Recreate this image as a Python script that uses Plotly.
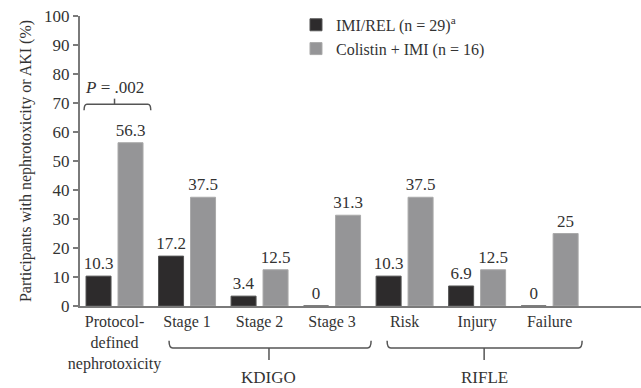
import plotly.graph_objects as go

categories = ["Protocol-<br>defined<br>nephrotoxicity", "Stage 1", "Stage 2", "Stage 3", "Risk", "Injury", "Failure"]
imi_rel = [10.3, 17.2, 3.4, 0, 10.3, 6.9, 0]
colistin_imi = [56.3, 37.5, 12.5, 31.3, 37.5, 12.5, 25]
imi_rel_labels = ["10.3", "17.2", "3.4", "0", "10.3", "6.9", "0"]
colistin_labels = ["56.3", "37.5", "12.5", "31.3", "37.5", "12.5", "25"]
y_ticks = [0, 10, 20, 30, 40, 50, 60, 70, 80, 90, 100]

FONT = "'Liberation Serif', 'Times New Roman', 'DejaVu Serif', serif"
AX = "#7a7a7a"
TXT = "#333333"
x_idx = list(range(len(categories)))

fig = go.Figure()
fig.add_trace(go.Bar(
    x=x_idx, y=imi_rel, name="IMI/REL (n = 29)<sup>a</sup>",
    width=0.345, offset=-0.393,
    marker=dict(color="#2d2b2c", line=dict(color="#555555", width=1)),
    text=imi_rel_labels, textposition="outside", cliponaxis=False, constraintext="none",
    textfont=dict(family=FONT, size=17, color=TXT),
))
fig.add_trace(go.Bar(
    x=x_idx, y=colistin_imi, name="Colistin + IMI (n = 16)",
    width=0.345, offset=0.048,
    marker=dict(color="#959597", line=dict(color="#aaaaaa", width=1)),
    text=colistin_labels, textposition="outside", cliponaxis=False, constraintext="none",
    textfont=dict(family=FONT, size=17, color=TXT),
))

shapes = []
line = dict(color="#555555", width=1.5)
# P-value bracket
shapes.append(dict(type="path", xref="x", yref="y",
                   path="M -0.42,67.5 Q -0.42,69.6 -0.38,69.6 L 0.46,69.6 Q 0.5,69.6 0.5,67.5",
                   line=line))
shapes.append(dict(type="line", xref="x", yref="y", x0=0.0, x1=0.0, y0=69.6, y1=71.5, line=line))

def bottom_bracket(x0, x1, xc):
    s = []
    s.append(dict(type="path", xref="x", yref="paper",
                  path=f"M {x0},-0.12 Q {x0},-0.145 {x0+0.05},-0.145 L {x1-0.05},-0.145 Q {x1},-0.145 {x1},-0.12",
                  line=line))
    s.append(dict(type="line", xref="x", yref="paper", x0=xc, x1=xc, y0=-0.145, y1=-0.186, line=line))
    return s

shapes += bottom_bracket(0.752, 3.538, 2.13)
shapes += bottom_bracket(3.759, 6.448, 5.097)

annotations = [
    dict(x=0.0, y=71.5, xref="x", yref="y", text="<i>P</i> = .002", showarrow=False,
         yanchor="bottom", font=dict(family=FONT, size=17, color=TXT)),
    dict(x=2.13, y=-0.245, xref="x", yref="paper", text="KDIGO", showarrow=False,
         yanchor="middle", font=dict(family=FONT, size=17, color=TXT)),
    dict(x=5.097, y=-0.245, xref="x", yref="paper", text="RIFLE", showarrow=False,
         yanchor="middle", font=dict(family=FONT, size=17, color=TXT)),
]

fig.update_layout(
    width=641, height=388,
    margin=dict(l=80, r=0, t=16, b=82),
    paper_bgcolor="white", plot_bgcolor="white",
    font=dict(family=FONT, size=16, color=TXT),
    showlegend=True,
    legend=dict(x=0.385, y=1.028, xanchor="left", yanchor="top",
                font=dict(family=FONT, size=16, color=TXT),
                bgcolor="rgba(0,0,0,0)", tracegroupgap=0),
    shapes=shapes, annotations=annotations,
    xaxis=dict(
        tickmode="array", tickvals=x_idx, ticktext=categories,
        range=[-0.476, 7.26], showline=True, linecolor=AX, linewidth=2,
        ticks="", showgrid=False, zeroline=False,
        tickfont=dict(family=FONT, size=16, color=TXT),
    ),
    yaxis=dict(
        range=[0, 100], tickvals=y_ticks, showline=True, linecolor=AX, linewidth=2,
        ticks="outside", ticklen=5, tickcolor=AX, tickwidth=1.5, showgrid=False, zeroline=False,
        tickfont=dict(family=FONT, size=17, color=TXT),
        title=dict(text="Participants with nephrotoxicity or AKI (%)",
                   font=dict(family=FONT, size=16, color=TXT), standoff=8),
    ),
)

fig.write_html("out.html", config={"displayModeBar": False},
               post_script="document.body.style.margin='0';document.body.style.padding='0';")
